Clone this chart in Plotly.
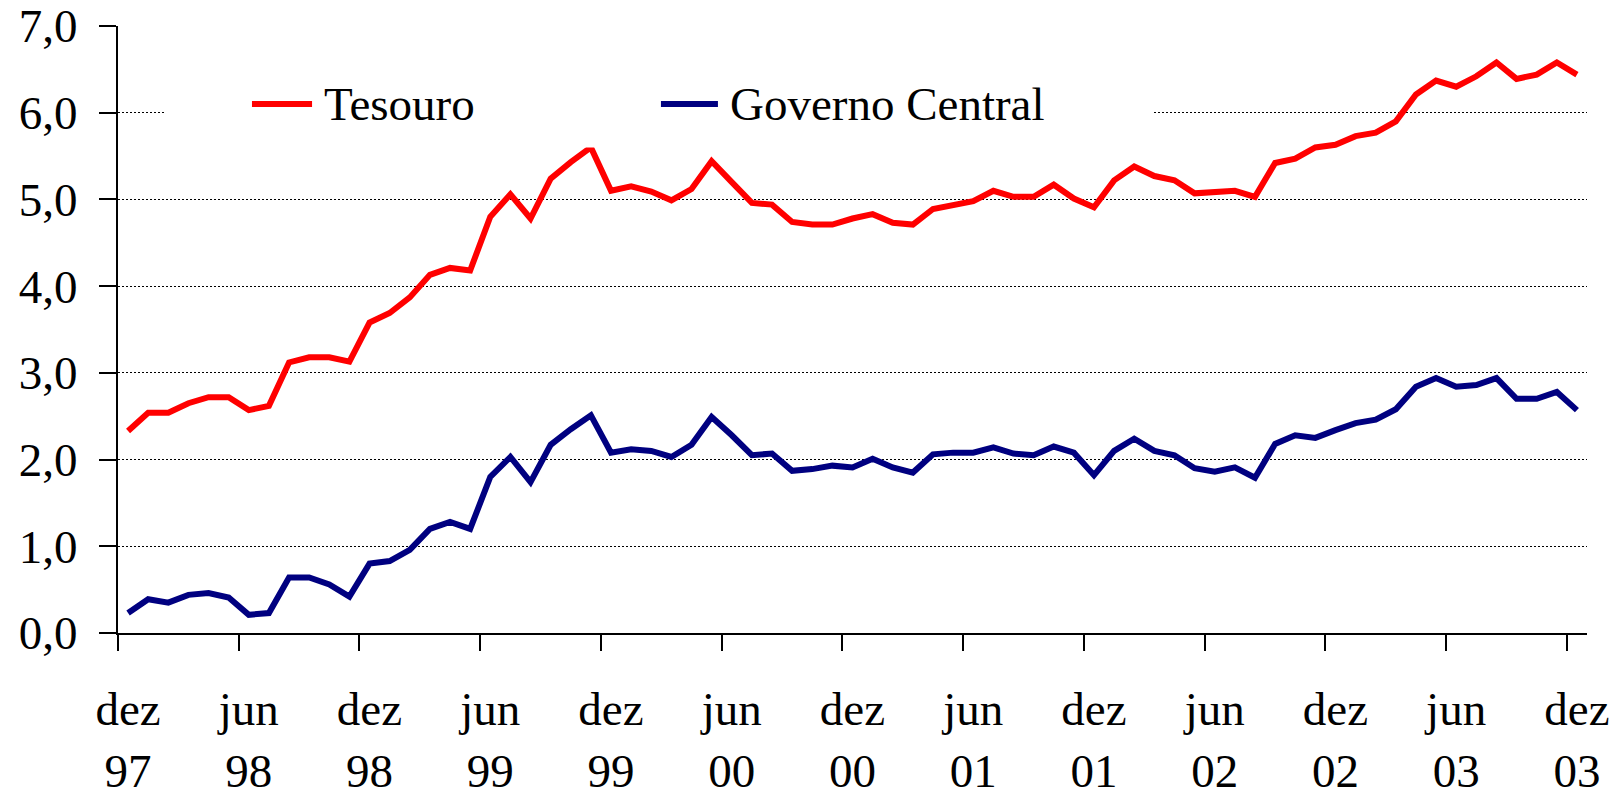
import plotly.graph_objects as go

# monthly series, dez/97 .. dez/03 (% do PIB)
tesouro = [2.33, 2.54, 2.54, 2.65, 2.72, 2.72, 2.57, 2.62, 3.12, 3.18, 3.18, 3.13,
           3.58, 3.69, 3.87, 4.13, 4.21, 4.18, 4.80, 5.06, 4.78, 5.24, 5.43, 5.60,
           5.10, 5.15, 5.09, 4.99, 5.12, 5.44, 5.20, 4.96, 4.94, 4.74, 4.71, 4.71,
           4.78, 4.83, 4.73, 4.71, 4.89, 4.94, 4.98, 5.10, 5.03, 5.03, 5.17, 5.01,
           4.91, 5.22, 5.38, 5.27, 5.22, 5.07, 5.08, 5.10, 5.03, 5.42, 5.47, 5.60,
           5.63, 5.73, 5.77, 5.90, 6.21, 6.37, 6.30, 6.42, 6.58, 6.39, 6.44, 6.58, 6.44]
governo = [0.23, 0.39, 0.35, 0.44, 0.46, 0.41, 0.21, 0.23, 0.64, 0.64, 0.56, 0.42,
           0.80, 0.83, 0.96, 1.20, 1.28, 1.20, 1.80, 2.03, 1.74, 2.17, 2.35, 2.51,
           2.08, 2.12, 2.10, 2.03, 2.17, 2.49, 2.28, 2.05, 2.07, 1.87, 1.89, 1.93,
           1.91, 2.01, 1.91, 1.85, 2.06, 2.08, 2.08, 2.14, 2.07, 2.05, 2.15, 2.08,
           1.82, 2.10, 2.24, 2.10, 2.05, 1.90, 1.86, 1.91, 1.79, 2.18, 2.28, 2.25,
           2.34, 2.42, 2.46, 2.58, 2.84, 2.94, 2.84, 2.86, 2.94, 2.70, 2.70, 2.78, 2.57]
tick_labels = ['dez<br>97', 'jun<br>98', 'dez<br>98', 'jun<br>99', 'dez<br>99',
               'jun<br>00', 'dez<br>00', 'jun<br>01', 'dez<br>01', 'jun<br>02',
               'dez<br>02', 'jun<br>03', 'dez<br>03']
series_names = ['Tesouro', 'Governo Central']
series_colors = ['#ff0000', '#000080']

x = list(range(len(tesouro)))
FONT = 'Liberation Serif'
FS = 47

fig = go.Figure()
for name, vals, col in zip(series_names, [tesouro, governo], series_colors):
    fig.add_trace(go.Scatter(x=x, y=vals, mode='lines', name=name,
                             line=dict(color=col, width=6), showlegend=False))

# excel-style category axis: ticks between months, labels centred on month
fig.update_xaxes(range=[-0.5, len(x) - 0.5], automargin=False,
                 tickvals=[i * 6 - 0.5 for i in range(len(tick_labels))],
                 ticktext=tick_labels, ticklabelshift=10, ticklabelstandoff=18,
                 ticklabeloverflow='allow',
                 ticks='outside', ticklen=16, tickwidth=2, tickcolor='black',
                 showline=True, linewidth=2, linecolor='black',
                 showgrid=False, zeroline=False,
                 tickfont=dict(family=FONT, size=FS, color='black'))
fig.update_yaxes(range=[0, 7], dtick=1, tickformat='.1f', automargin=False,
                 ticklabeloverflow='allow',
                 ticks='outside', ticklen=17, tickwidth=2, tickcolor='black',
                 ticklabelstandoff=12,
                 showline=True, linewidth=2, linecolor='black',
                 showgrid=True, gridcolor='black', gridwidth=1, griddash='2px,2px',
                 zeroline=False,
                 tickfont=dict(family=FONT, size=FS, color='black'))

# legend box drawn by hand (white background hides the 6,0 gridline)
fig.add_shape(type='rect', xref='paper', yref='paper', x0=0.032, x1=0.7046,
              y0=0.80, y1=0.94, fillcolor='white', line_width=0, layer='above')
leg_pos = [(0.0912, 0.1321), (0.3696, 0.4084)]
for (x0, x1), name, col in zip(leg_pos, series_names, series_colors):
    fig.add_shape(type='line', xref='paper', yref='paper', x0=x0, x1=x1,
                  y0=0.8715, y1=0.8715, line=dict(color=col, width=6), layer='above')
    fig.add_annotation(xref='paper', yref='paper', x=x1 + 0.007, y=0.8715,
                       xanchor='left', yanchor='middle', text=name, showarrow=False,
                       font=dict(family=FONT, size=FS, color='black'))

# page body adds an 8px margin, so the figure is 8px smaller on each axis
fig.update_layout(width=1613, height=782, separators=',.',
                  margin=dict(l=110, r=34, t=18, b=157),
                  plot_bgcolor='white', paper_bgcolor='white',
                  font=dict(family=FONT, size=FS, color='black'))

fig.write_html('out.html')
